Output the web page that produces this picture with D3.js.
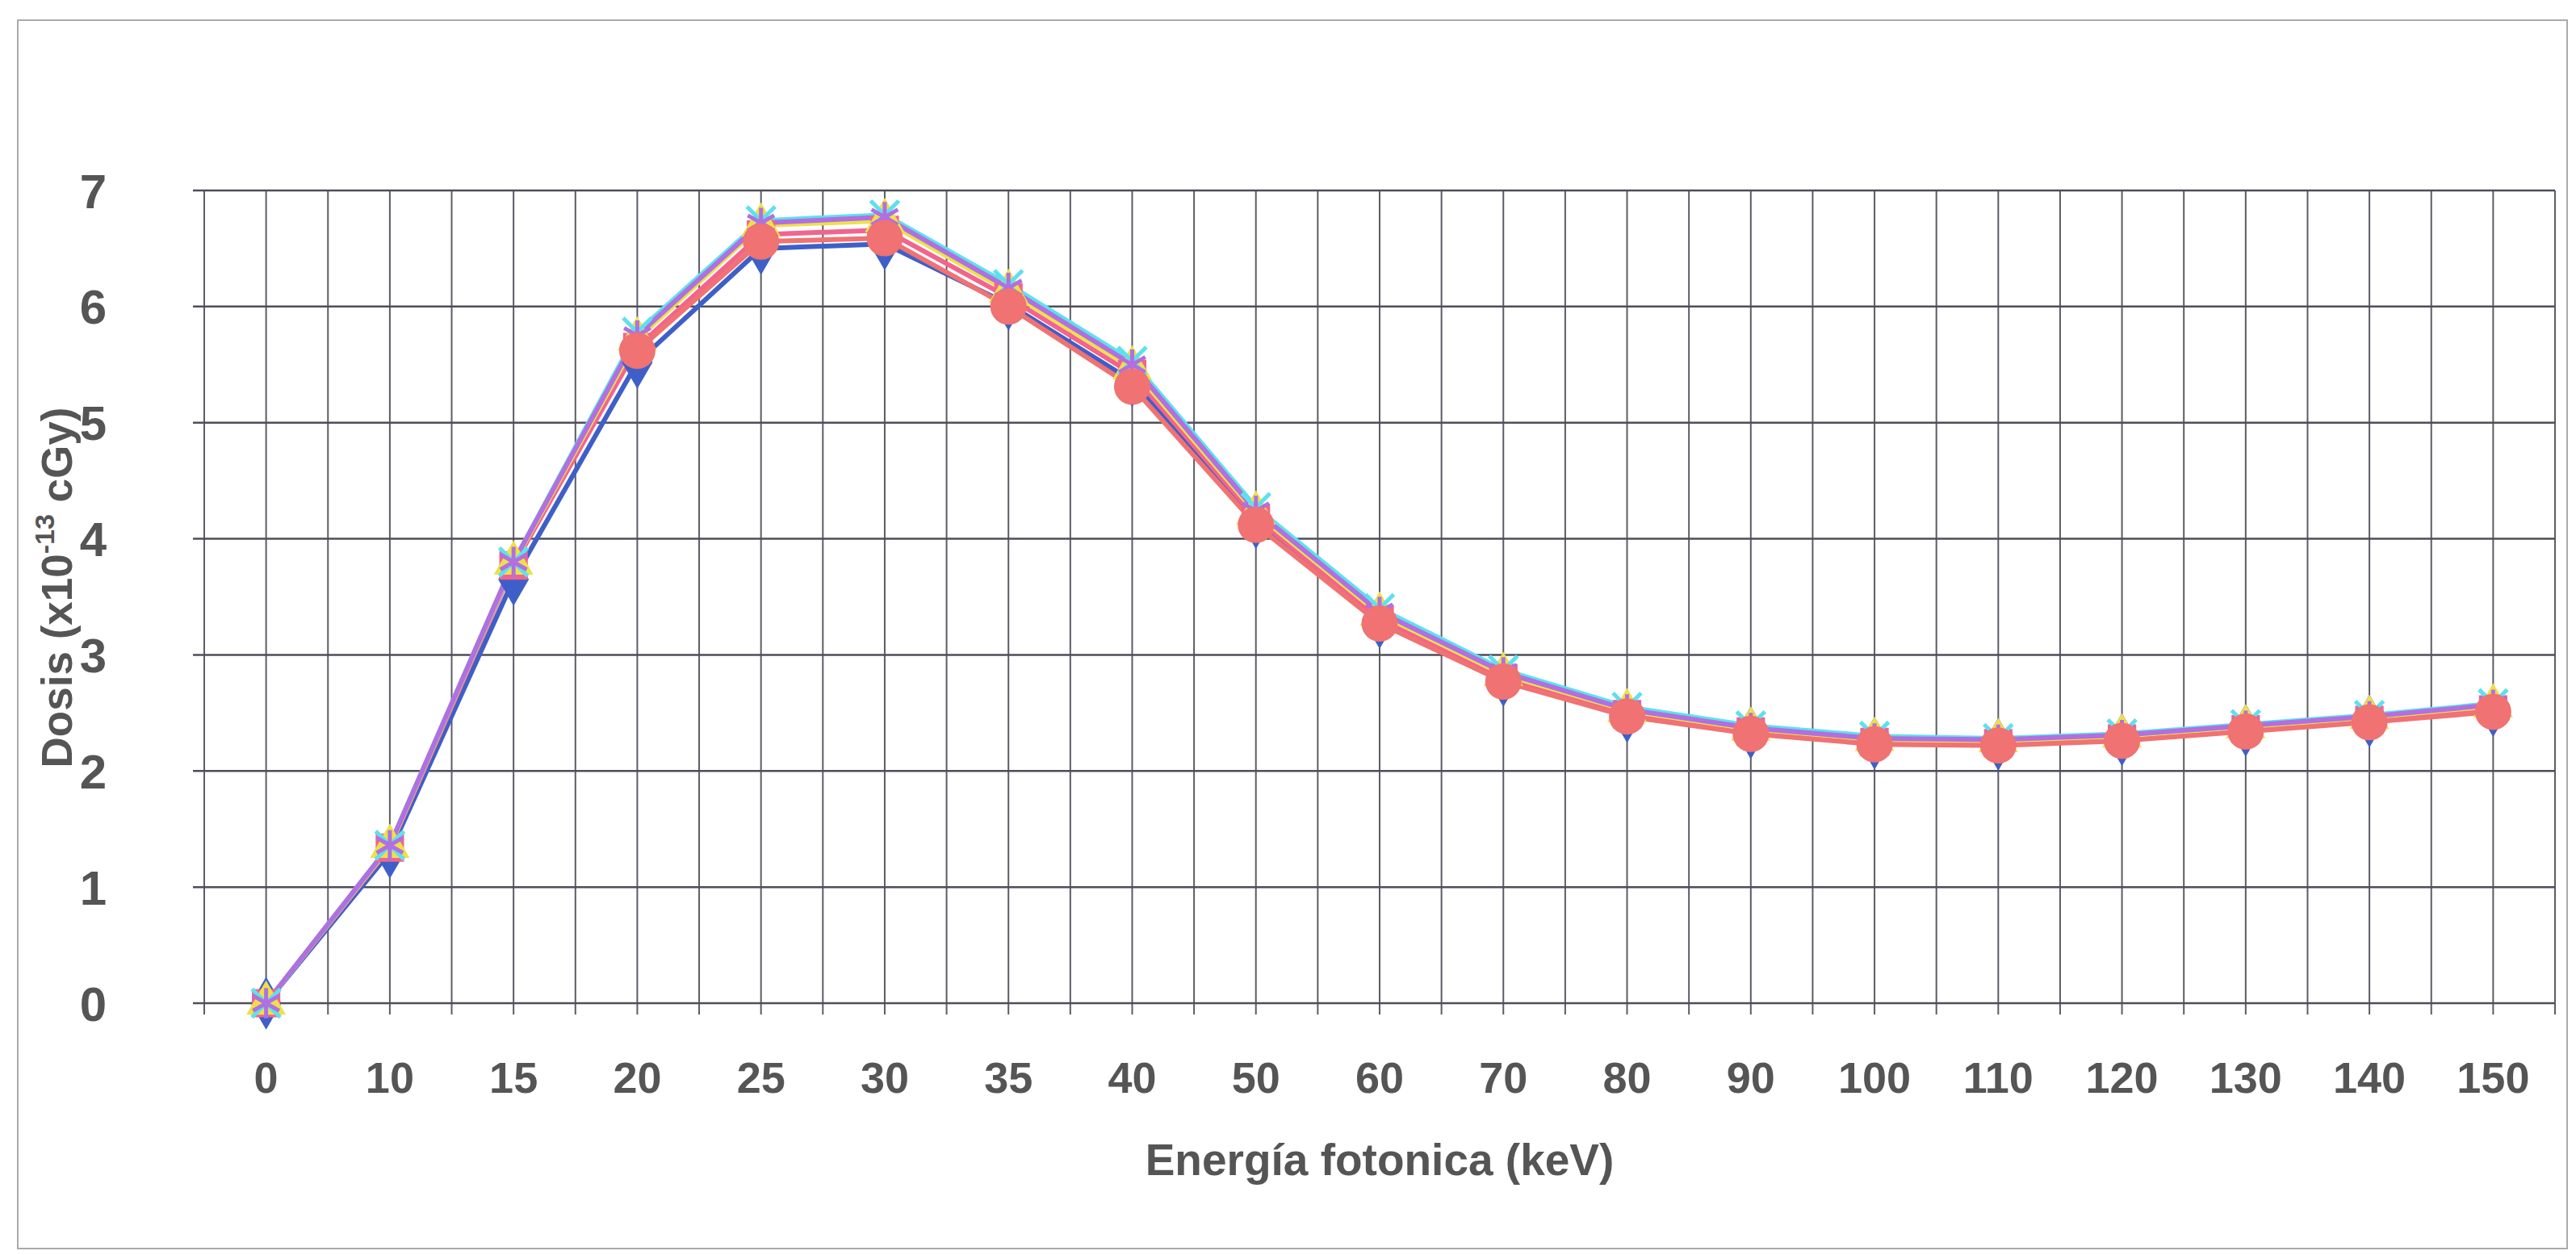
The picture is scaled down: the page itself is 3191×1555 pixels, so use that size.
<!DOCTYPE html>
<html>
<head>
<meta charset="utf-8">
<script src="https://cdn.jsdelivr.net/npm/d3@7"></script>
<style>
    body { margin: 0; background: #fff; }
    text { font-family: "Liberation Sans", Arial, sans-serif; font-weight: bold; fill: #555; }
</style>
</head>
<body>
<svg id="chart_svg" width="3191" height="1555"></svg>
<script>
// energy categories (keV) and dose series (x1e-13 cGy)
const g_cats = [0, 10, 15, 20, 25, 30, 35, 40, 50, 60, 70, 80, 90, 100, 110, 120, 130, 140, 150];
const g_y_ticks = [0, 1, 2, 3, 4, 5, 6, 7];
const g_blue    = [0, 1.30, 3.65, 5.52, 6.50, 6.54, 6.02, 5.36, 4.14, 3.28, 2.78, 2.47, 2.33, 2.24, 2.23, 2.27, 2.35, 2.43, 2.52];
const g_magenta = [0, 1.34, 3.77, 5.65, 6.62, 6.66, 6.08, 5.42, 4.18, 3.31, 2.80, 2.49, 2.34, 2.25, 2.24, 2.28, 2.36, 2.44, 2.53];
const g_yellow  = [0, 1.35, 3.79, 5.72, 6.70, 6.74, 6.13, 5.47, 4.22, 3.35, 2.83, 2.52, 2.36, 2.27, 2.26, 2.30, 2.38, 2.46, 2.56];
const g_cyan    = [0, 1.36, 3.80, 5.78, 6.74, 6.79, 6.19, 5.53, 4.27, 3.40, 2.87, 2.55, 2.39, 2.30, 2.28, 2.32, 2.40, 2.48, 2.58];
const g_purple  = [0, 1.36, 3.80, 5.75, 6.72, 6.77, 6.16, 5.50, 4.24, 3.37, 2.85, 2.53, 2.37, 2.28, 2.27, 2.31, 2.39, 2.47, 2.57];
const g_salmon  = [null, null, null, 5.62, 6.56, 6.59, 6.00, 5.31, 4.12, 3.27, 2.77, 2.47, 2.32, 2.23, 2.22, 2.26, 2.34, 2.42, 2.51];

// series styles (draw order = excel order, circles end on top)
const g_series = [
    { vals: g_blue,    color: "#3f5fc8", sym: d3.symbolDiamond,  fill: true,  size: 1100 },
    { vals: g_magenta, color: "#f2648e", sym: d3.symbolSquare,   fill: true,  size: 1100 },
    { vals: g_yellow,  color: "#eee04a", sym: d3.symbolTriangle, fill: true,  size: 900 },
    { vals: g_cyan,    color: "#5fe0ee", sym: d3.symbolX,        fill: false, size: 800 },
    { vals: g_purple,  color: "#b070e0", sym: d3.symbolAsterisk, fill: false, size: 1000 },
    { vals: g_salmon,  color: "#f07272", sym: d3.symbolCircle,   fill: true,  size: 1450 }
];

const g_plot = { l: 253, r: 3165, t: 236, b: 1243 };

let svg = d3.select("#chart_svg");

// outer chart border
svg.append("rect")
    .attr("x", 22).attr("y", 25).attr("width", 3158).attr("height", 1522)
    .attr("style", "fill:none; stroke:#aaa; stroke-width:2");

let x = d3.scaleBand().domain(g_cats).range([g_plot.l, g_plot.r]).paddingInner(0).paddingOuter(0);
let y = d3.scaleLinear().domain([0, 7]).range([g_plot.b, g_plot.t]);
let half = x.bandwidth() / 2;
let g = svg.append("g");

// vertical grid: category boundaries and centres
let vx = [];
g_cats.forEach(c => { vx.push(x(c)); vx.push(x(c) + half); });
vx.push(g_plot.r);
g.selectAll(".vgrid").data(vx).join("line").classed("vgrid", true)
    .attr("x1", d => d).attr("x2", d => d)
    .attr("y1", g_plot.t).attr("y2", g_plot.b + 14)
    .attr("style", "stroke:#5c5c66; stroke-width:2");

// horizontal grid + y labels
g.selectAll(".hgrid").data(g_y_ticks).join("line").classed("hgrid", true)
    .attr("x1", g_plot.l - 14).attr("x2", g_plot.r)
    .attr("y1", d => y(d)).attr("y2", d => y(d))
    .attr("style", "stroke:#4e4e5a; stroke-width:2.5");

g.selectAll(".ylab").data(g_y_ticks).join("text").classed("ylab", true)
    .attr("x", 132).attr("y", d => y(d)).attr("dy", "0.36em")
    .attr("text-anchor", "end").attr("font-size", 60)
    .text(d => d);

// x labels
g.selectAll(".xlab").data(g_cats).join("text").classed("xlab", true)
    .attr("x", d => x(d) + half).attr("y", 1354)
    .attr("text-anchor", "middle").attr("font-size", 54)
    .text(d => d);

// axis titles
svg.append("text")
    .attr("x", 1709).attr("y", 1456).attr("text-anchor", "middle").attr("font-size", 55)
    .text("Energía fotonica (keV)");
let yt = svg.append("text")
    .attr("transform", "translate(89, 728) rotate(-90)")
    .attr("text-anchor", "middle").attr("font-size", 53);
yt.append("tspan").text("Dosis (x10");
yt.append("tspan").attr("dy", -22).attr("font-size", 34).text("-13");
yt.append("tspan").attr("dy", 22).text(" cGy)");

// lines
let line = d3.line().defined(d => d !== null).x((d, i) => x(g_cats[i]) + half).y(d => y(d));
g.selectAll(".ser").data(g_series).join("path").classed("ser", true)
    .attr("d", s => line(s.vals))
    .attr("style", s => "fill:none; stroke-width:6; stroke-linejoin:round; stroke:" + s.color);

// markers
g_series.forEach(s => {
    let sym = d3.symbol().type(s.sym).size(s.size);
    let pts = s.vals.map((v, i) => ({ c: g_cats[i], v: v })).filter(p => p.v !== null);
    g.append("g").selectAll("path").data(pts).join("path")
        .attr("transform", p => "translate(" + (x(p.c) + half) + "," + y(p.v) + ")")
        .attr("d", sym)
        .attr("style", s.fill ? "fill:" + s.color + "; stroke:" + s.color + "; stroke-width:2"
                              : "fill:none; stroke:" + s.color + "; stroke-width:5");
});
</script>
</body>
</html>
